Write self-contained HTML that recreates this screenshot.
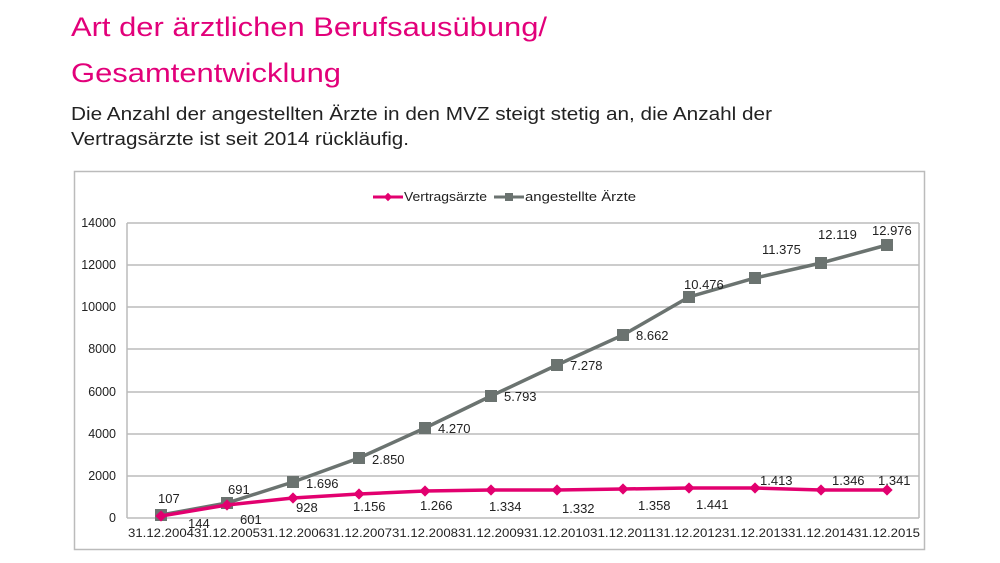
<!DOCTYPE html>
<html><head><meta charset="utf-8"><style>
body{margin:0;background:#fff;}
svg{display:block;font-family:"Liberation Sans",Arial,sans-serif;}
</style></head><body>
<svg width="1000" height="563" viewBox="0 0 1000 563">
<text x="71" y="36" font-size="27" fill="#e2007a" textLength="476" lengthAdjust="spacingAndGlyphs">Art der ärztlichen Berufsausübung/</text>
<text x="71" y="82" font-size="27" fill="#e2007a" textLength="270" lengthAdjust="spacingAndGlyphs">Gesamtentwicklung</text>
<text x="71" y="120" font-size="18" fill="#222" textLength="701" lengthAdjust="spacingAndGlyphs">Die Anzahl der angestellten Ärzte in den MVZ steigt stetig an, die Anzahl der</text>
<text x="71" y="145" font-size="18" fill="#222" textLength="338" lengthAdjust="spacingAndGlyphs">Vertragsärzte ist seit 2014 rückläufig.</text>
<rect x="74.5" y="171.5" width="850" height="378" fill="#fff" stroke="#bbb" stroke-width="1.5"/>
<g stroke="#bbb" stroke-width="1.5">
<line x1="127" y1="223" x2="919" y2="223"/><line x1="127" y1="265" x2="919" y2="265"/>
<line x1="127" y1="307" x2="919" y2="307"/><line x1="127" y1="349" x2="919" y2="349"/>
<line x1="127" y1="392" x2="919" y2="392"/><line x1="127" y1="434" x2="919" y2="434"/>
<line x1="127" y1="476" x2="919" y2="476"/><line x1="127" y1="518" x2="919" y2="518"/>
<line x1="127" y1="223" x2="127" y2="518"/><line x1="919" y1="223" x2="919" y2="518"/>
</g>
<g font-size="12.5" fill="#222" text-anchor="end">
<text x="116" y="227">14000</text><text x="116" y="269">12000</text><text x="116" y="311">10000</text>
<text x="116" y="353">8000</text><text x="116" y="396">6000</text><text x="116" y="438">4000</text>
<text x="116" y="480">2000</text><text x="116" y="522">0</text>
</g>
<g font-size="12" fill="#222" text-anchor="middle">
<text x="161" y="537" textLength="66" lengthAdjust="spacingAndGlyphs">31.12.2004</text>
<text x="227" y="537" textLength="66" lengthAdjust="spacingAndGlyphs">31.12.2005</text>
<text x="293" y="537" textLength="66" lengthAdjust="spacingAndGlyphs">31.12.2006</text>
<text x="359" y="537" textLength="66" lengthAdjust="spacingAndGlyphs">31.12.2007</text>
<text x="425" y="537" textLength="66" lengthAdjust="spacingAndGlyphs">31.12.2008</text>
<text x="491" y="537" textLength="66" lengthAdjust="spacingAndGlyphs">31.12.2009</text>
<text x="557" y="537" textLength="66" lengthAdjust="spacingAndGlyphs">31.12.2010</text>
<text x="623" y="537" textLength="66" lengthAdjust="spacingAndGlyphs">31.12.2011</text>
<text x="689" y="537" textLength="66" lengthAdjust="spacingAndGlyphs">31.12.2012</text>
<text x="755" y="537" textLength="66" lengthAdjust="spacingAndGlyphs">31.12.2013</text>
<text x="821" y="537" textLength="66" lengthAdjust="spacingAndGlyphs">31.12.2014</text>
<text x="887" y="537" textLength="66" lengthAdjust="spacingAndGlyphs">31.12.2015</text>
</g>
<!-- legend -->
<line x1="373" y1="197" x2="403" y2="197" stroke="#e2006f" stroke-width="3"/>
<rect x="385" y="194" width="6" height="6" fill="#e2006f" transform="rotate(45 388 197)"/>
<text x="404" y="201" font-size="12.5" fill="#222" textLength="83" lengthAdjust="spacingAndGlyphs">Vertragsärzte</text>
<line x1="494" y1="197" x2="524" y2="197" stroke="#6b7370" stroke-width="3"/>
<rect x="505" y="193" width="8" height="8" fill="#6b7370"/>
<text x="525" y="201" font-size="12.5" fill="#222" textLength="111" lengthAdjust="spacingAndGlyphs">angestellte Ärzte</text>
<!-- grey series -->
<polyline fill="none" stroke="#6b7370" stroke-width="3.5" points="161,515 227,503 293,482 359,458 425,428 491,396 557,365 623,335 689,297 755,278 821,263 887,245"/>
<g fill="#6b7370">
<rect x="155" y="509" width="12" height="12"/><rect x="221" y="497" width="12" height="12"/>
<rect x="287" y="476" width="12" height="12"/><rect x="353" y="452" width="12" height="12"/>
<rect x="419" y="422" width="12" height="12"/><rect x="485" y="390" width="12" height="12"/>
<rect x="551" y="359" width="12" height="12"/><rect x="617" y="329" width="12" height="12"/>
<rect x="683" y="291" width="12" height="12"/><rect x="749" y="272" width="12" height="12"/>
<rect x="815" y="257" width="12" height="12"/><rect x="881" y="239" width="12" height="12"/>
</g>
<!-- pink series -->
<polyline fill="none" stroke="#e2006f" stroke-width="3.5" points="161,516 227,505 293,498 359,494 425,491 491,490 557,490 623,489 689,488 755,488 821,490 887,490"/>
<g fill="#e2006f">
<rect x="157" y="512" width="8" height="8" transform="rotate(45 161 516)"/>
<rect x="223" y="501" width="8" height="8" transform="rotate(45 227 505)"/>
<rect x="289" y="494" width="8" height="8" transform="rotate(45 293 498)"/>
<rect x="355" y="490" width="8" height="8" transform="rotate(45 359 494)"/>
<rect x="421" y="487" width="8" height="8" transform="rotate(45 425 491)"/>
<rect x="487" y="486" width="8" height="8" transform="rotate(45 491 490)"/>
<rect x="553" y="486" width="8" height="8" transform="rotate(45 557 490)"/>
<rect x="619" y="485" width="8" height="8" transform="rotate(45 623 489)"/>
<rect x="685" y="484" width="8" height="8" transform="rotate(45 689 488)"/>
<rect x="751" y="484" width="8" height="8" transform="rotate(45 755 488)"/>
<rect x="817" y="486" width="8" height="8" transform="rotate(45 821 490)"/>
<rect x="883" y="486" width="8" height="8" transform="rotate(45 887 490)"/>
</g>
<!-- labels -->
<g font-size="13" fill="#222">
<text x="158" y="503">107</text>
<text x="188" y="528">144</text>
<text x="228" y="494">691</text>
<text x="240" y="524">601</text>
<text x="306" y="488">1.696</text>
<text x="296" y="512">928</text>
<text x="372" y="464">2.850</text>
<text x="353" y="511">1.156</text>
<text x="438" y="433">4.270</text>
<text x="420" y="510">1.266</text>
<text x="504" y="401">5.793</text>
<text x="489" y="511">1.334</text>
<text x="570" y="370">7.278</text>
<text x="562" y="513">1.332</text>
<text x="636" y="340">8.662</text>
<text x="638" y="510">1.358</text>
<text x="684" y="289">10.476</text>
<text x="696" y="509">1.441</text>
<text x="762" y="254">11.375</text>
<text x="760" y="485">1.413</text>
<text x="818" y="239">12.119</text>
<text x="832" y="485">1.346</text>
<text x="872" y="235">12.976</text>
<text x="878" y="485">1.341</text>
</g>
</svg>
</body></html>
